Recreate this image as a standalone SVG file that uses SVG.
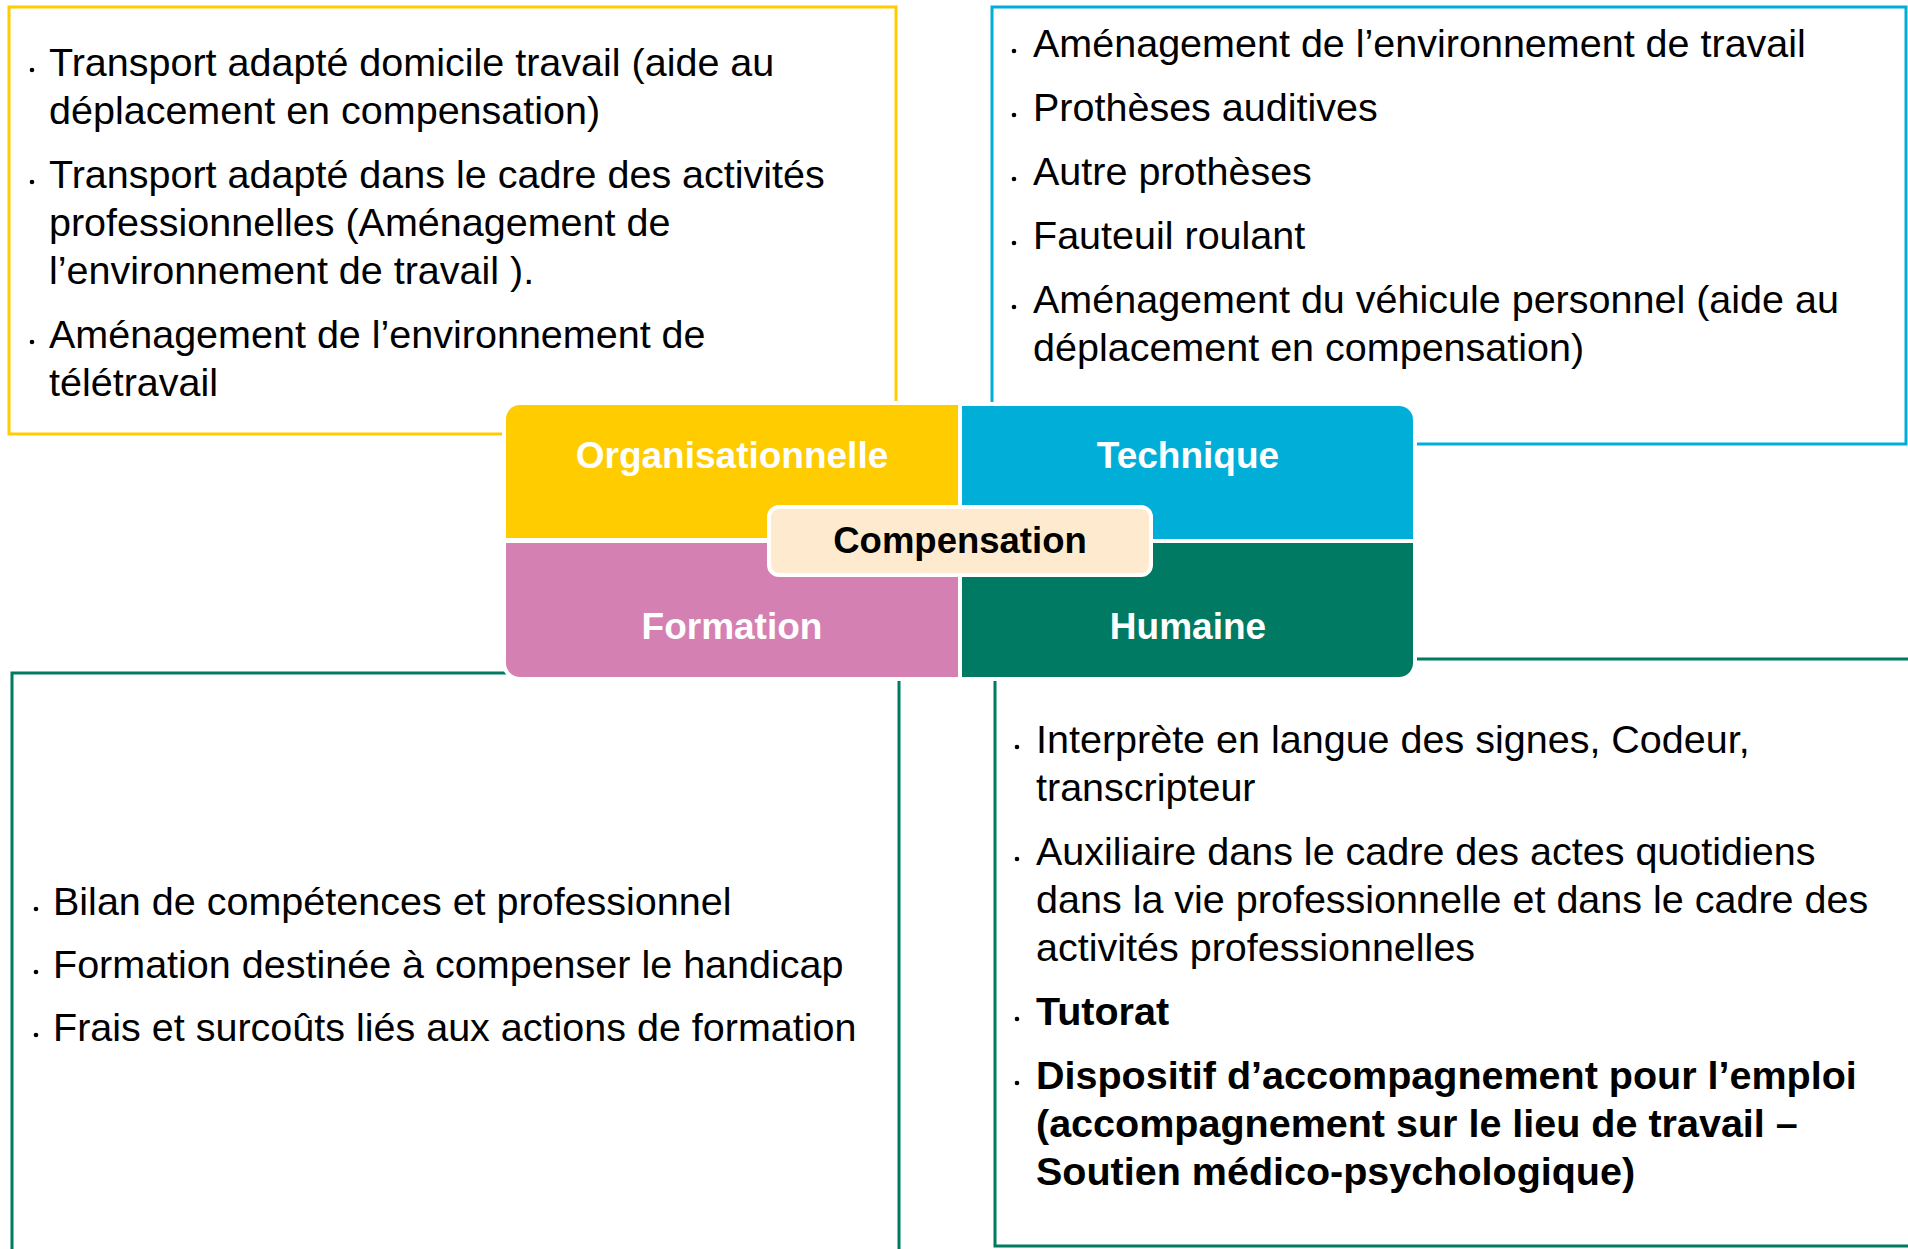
<svg xmlns="http://www.w3.org/2000/svg" width="1908" height="1249" viewBox="0 0 1908 1249">
<style>
.box{fill:none;stroke-width:3}
.body{font-family:"Liberation Sans",Arial,sans-serif;font-size:39.5px;fill:#000}
.b{font-weight:bold}
.title{font-family:"Liberation Sans",Arial,sans-serif;font-size:37px;font-weight:bold;fill:#fff;text-anchor:middle}
.quad{stroke:#fff;stroke-width:8;paint-order:stroke}
.dot{fill:#000}
</style>
<rect width="1908" height="1249" fill="#fff"/>
<g id="box-organisationnelle">
<rect class="box" x="9" y="7" width="887" height="427" stroke="#FFCC00"/>
<circle class="dot" cx="32" cy="70" r="2.3"/>
<circle class="dot" cx="32" cy="182" r="2.3"/>
<circle class="dot" cx="32" cy="342" r="2.3"/>
<text class="body"><tspan x="49" y="76">Transport adapté domicile travail (aide au</tspan><tspan x="49" y="124">déplacement en compensation)</tspan><tspan x="49" y="188">Transport adapté dans le cadre des activités</tspan><tspan x="49" y="236">professionnelles (Aménagement de</tspan><tspan x="49" y="284">l’environnement de travail ).</tspan><tspan x="49" y="348">Aménagement de l’environnement de</tspan><tspan x="49" y="396">télétravail</tspan></text>
</g>
<g id="box-technique">
<rect class="box" x="992" y="7" width="914" height="437" stroke="#00AED8"/>
<circle class="dot" cx="1014" cy="51" r="2.3"/>
<circle class="dot" cx="1014" cy="115" r="2.3"/>
<circle class="dot" cx="1014" cy="179" r="2.3"/>
<circle class="dot" cx="1014" cy="243" r="2.3"/>
<circle class="dot" cx="1014" cy="307" r="2.3"/>
<text class="body"><tspan x="1033" y="57">Aménagement de l’environnement de travail</tspan><tspan x="1033" y="121">Prothèses auditives</tspan><tspan x="1033" y="185">Autre prothèses</tspan><tspan x="1033" y="249">Fauteuil roulant</tspan><tspan x="1033" y="313">Aménagement du véhicule personnel (aide au</tspan><tspan x="1033" y="361">déplacement en compensation)</tspan></text>
</g>
<g id="box-formation">
<rect class="box" x="12" y="673" width="887" height="620" stroke="#007A62"/>
<circle class="dot" cx="36" cy="909" r="2.3"/>
<circle class="dot" cx="36" cy="972" r="2.3"/>
<circle class="dot" cx="36" cy="1035" r="2.3"/>
<text class="body"><tspan x="53" y="915">Bilan de compétences et professionnel</tspan><tspan x="53" y="978">Formation destinée à compenser le handicap</tspan><tspan x="53" y="1041">Frais et surcoûts liés aux actions de formation</tspan></text>
</g>
<g id="box-humaine">
<rect class="box" x="995" y="659" width="1000" height="587" stroke="#007A62"/>
<circle class="dot" cx="1017" cy="747" r="2.3"/>
<circle class="dot" cx="1017" cy="859" r="2.3"/>
<circle class="dot" cx="1017" cy="1019" r="2.3"/>
<circle class="dot" cx="1017" cy="1083" r="2.3"/>
<text class="body"><tspan x="1036" y="753">Interprète en langue des signes, Codeur,</tspan><tspan x="1036" y="801">transcripteur</tspan><tspan x="1036" y="865">Auxiliaire dans le cadre des actes quotidiens</tspan><tspan x="1036" y="913">dans la vie professionnelle et dans le cadre des</tspan><tspan x="1036" y="961">activités professionnelles</tspan><tspan class="b" x="1036" y="1025">Tutorat</tspan><tspan class="b" x="1036" y="1089">Dispositif d’accompagnement pour l’emploi</tspan><tspan class="b" x="1036" y="1137">(accompagnement sur le lieu de travail –</tspan><tspan class="b" x="1036" y="1185">Soutien médico-psychologique)</tspan></text>
</g>
<g id="connectors"></g>
<g id="node-organisationnelle">
<path class="quad" fill="#FFCC00" d="M506,538 V419 A14,14 0 0 1 520,405 H958 V538 Z"/>
<text class="title" x="732" y="468">Organisationnelle</text>
</g>
<g id="node-technique">
<path class="quad" fill="#00AED8" d="M962,406 H1399 A14,14 0 0 1 1413,420 V539 H962 Z"/>
<text class="title" x="1188" y="468">Technique</text>
</g>
<g id="node-formation">
<path class="quad" fill="#D580B2" d="M506,543 H958 V677 H520 A14,14 0 0 1 506,663 Z"/>
<text class="title" x="732" y="639">Formation</text>
</g>
<g id="node-humaine">
<path class="quad" fill="#007A62" d="M962,543 H1413 V663 A14,14 0 0 1 1399,677 H962 Z"/>
<text class="title" x="1188" y="639">Humaine</text>
</g>
<g id="node-compensation">
<rect x="769" y="507" width="382" height="68" rx="10" fill="#FEEBCF" stroke="#fff" stroke-width="4"/>
<text class="title" x="960" y="553" style="fill:#000;font-size:36.5px">Compensation</text>
</g>
</svg>
